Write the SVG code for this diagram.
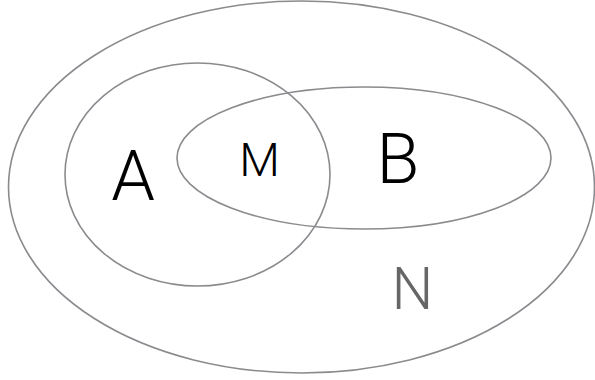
<svg xmlns="http://www.w3.org/2000/svg" width="595" height="380" viewBox="0 0 595 380">
<style>
.set{fill:none;stroke:#8a8b8e;stroke-width:1.6}
.lbl{font-family:Roboto,"Liberation Sans",sans-serif;font-weight:300;text-anchor:middle;fill:#000}
</style>
<rect width="595" height="380" fill="#fff"/>
<g id="N">
<ellipse class="set" cx="301.5" cy="187" rx="293" ry="186"/>
<text class="lbl" x="412.5" y="309" font-size="59" fill="#666" style="fill:#666">N</text>
</g>
<g id="A">
<ellipse class="set" cx="197.5" cy="174.5" rx="132.5" ry="111.5"/>
<text class="lbl" x="133" y="200" font-size="70">A</text>
</g>
<g id="B">
<ellipse class="set" cx="364" cy="158" rx="187" ry="71"/>
<text class="lbl" x="398" y="183" font-size="70">B</text>
</g>
<g id="M">
<text class="lbl" x="259.5" y="176" font-size="47">M</text>
</g>
<g id="connectors"></g>
</svg>
